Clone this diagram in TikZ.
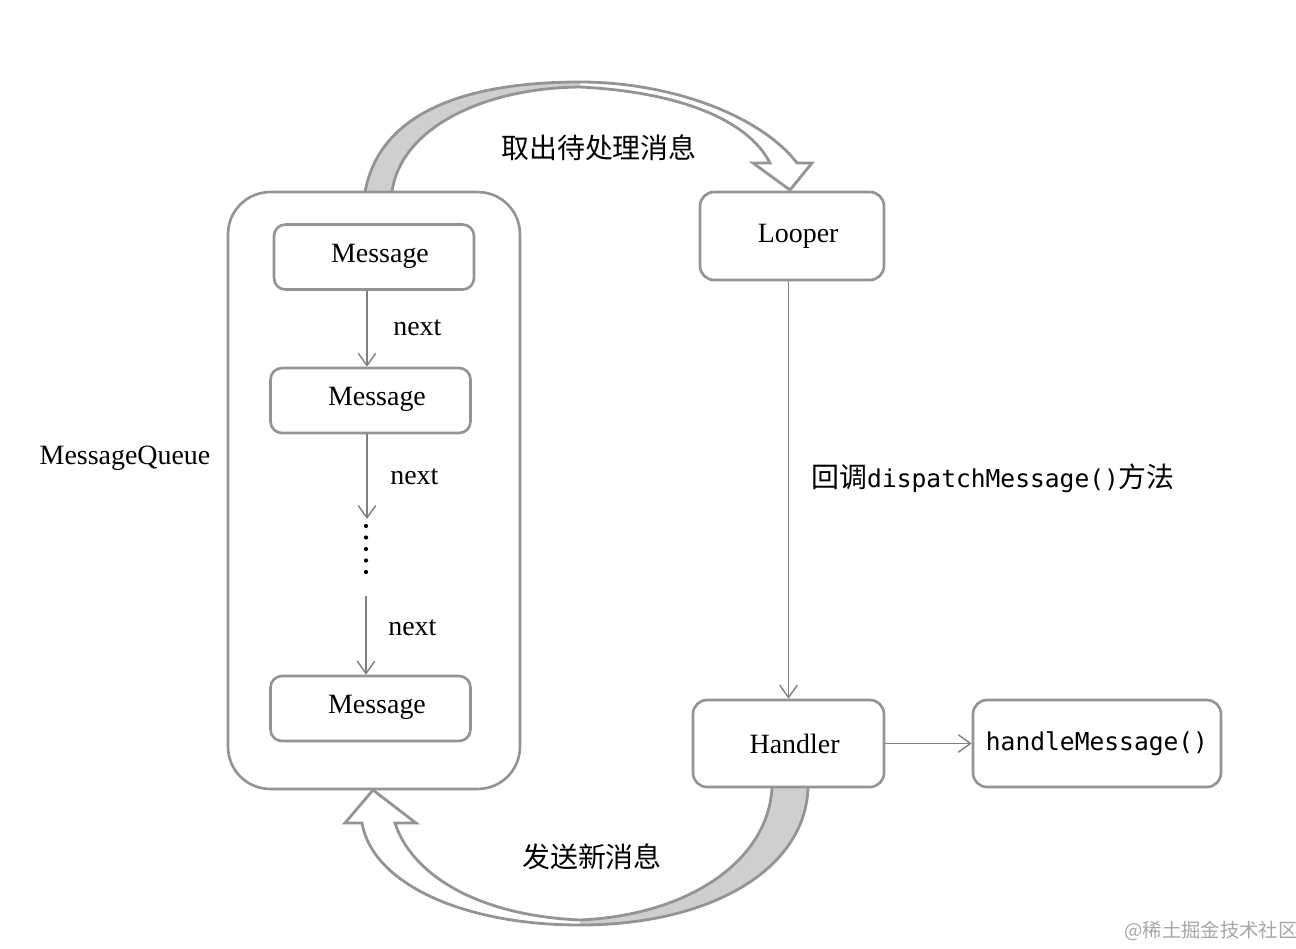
\documentclass[tikz,border=0pt]{standalone}
\usepackage{fontspec}
\setmainfont{Liberation Serif}
\setmonofont{DejaVu Sans Mono}
\newfontfamily\cjk{Noto Sans CJK SC}
\usetikzlibrary{arrows.meta}
\colorlet{lineGray}{black!42}
\colorlet{backGray}{black!19}
\colorlet{markGray}{black!45}
\tikzset{
boxstyle/.style={rectangle, rounded corners=8pt, draw=lineGray, line width=1.5pt, fill=white, inner sep=0pt},
msgstyle/.style={boxstyle, rounded corners=6.5pt, minimum width=4cm, minimum height=1.3cm},
labelstyle/.style={inner sep=0pt, font=\fontsize{15.9}{19}\selectfont},
linkarrow/.style={draw=black!50, line width=0.8pt, -{Straight Barb[length=7pt, width=10pt, line width=0.8pt]}},
curvestyle/.style={draw=lineGray, line width=1.6pt, line join=miter}
}
\newcommand{\bigfont}{\fontsize{15.9}{19}\selectfont}

\begin{document}
\begin{tikzpicture}[x=0.02cm, y=-0.02cm]
\useasboundingbox (0,0) rectangle (1296,948);

% take out message
\fill[backGray] (365,192) .. controls (380,110) and (470,82) .. (580,82) -- (580,87)
  .. controls (480,88) and (400,130) .. (392,192) -- cycle;
\draw[curvestyle] (365,192) .. controls (380,110) and (470,82) .. (580,82)
  .. controls (670,82) and (760,115) .. (797,163) -- (812,163) -- (790,190) -- (753,163) -- (770,163)
  .. controls (748,120) and (680,92) .. (580,87)
  .. controls (480,88) and (400,130) .. (392,192);

% send new message
\fill[backGray] (808,788) .. controls (805,870) and (710,925) .. (580,925) -- (580,920)
  .. controls (690,915) and (768,860) .. (772,788) -- cycle;
\draw[curvestyle] (808,788) .. controls (805,870) and (710,925) .. (580,925)
  .. controls (460,925) and (372,882) .. (362,823) -- (345,823) -- (373,790) -- (416,823) -- (395,823)
  .. controls (410,870) and (470,915) .. (580,920)
  .. controls (690,915) and (768,860) .. (772,788);

\node[boxstyle, rounded corners=24pt, minimum width=5.84cm, minimum height=11.94cm] (queue) at (374,490.5) {};
\node[msgstyle] (msg1) at (374,257) {};
\node[labelstyle] at (380,256) {Message};
\node[msgstyle] (msg2) at (370.5,400.5) {};
\node[labelstyle] at (377,399) {Message};
\node[msgstyle] (msg3) at (370.5,708.5) {};
\node[labelstyle] at (377,707) {Message};

\coordinate (gapa) at (367,519);
\coordinate (gapb) at (366,596);

\draw[linkarrow] (gapa |- msg1.south) -- (gapa |- msg2.north);
\draw[linkarrow] (gapa |- msg2.south) -- (gapa);
\foreach \k in {0,...,4}
  \fill[black] (366,526+11.5*\k) circle (1.2pt);
\draw[linkarrow] (gapb) -- (gapb |- msg3.north);

\node[labelstyle, anchor=west] (nexta) at (393,328) {next};
\node[labelstyle, anchor=west] (nextb) at (390,477) {next};
\node[labelstyle, anchor=west] (nextc) at (388,628) {next};
\node[labelstyle] (queuelabel) at (125,458) {MessageQueue};

\node[boxstyle, minimum width=3.68cm, minimum height=1.76cm, font=\bigfont] (looper) at (792,236) {\hspace*{7pt}Looper};
\node[boxstyle, minimum width=3.82cm, minimum height=1.74cm, font=\bigfont] (handler) at (788.5,743.5) {\hspace*{7pt}Handler};
\node[boxstyle, minimum width=4.96cm, minimum height=1.74cm, font=\ttfamily\fontsize{14}{17}\selectfont] (handlemsg) at (1097,743.5) {handleMessage()};

\draw[linkarrow] (looper.south -| handler.north) -- (handler.north);
\draw[linkarrow] (handler.east) -- (handlemsg.west);

\node[labelstyle, anchor=west, font=\fontsize{15.9}{19}\selectfont] (callback) at (811,478)
  {{\cjk 回调}{\ttfamily\fontsize{14}{17}\selectfont dispatchMessage()}{\cjk 方法}};
\node[labelstyle, font=\cjk\bigfont] (takelabel) at (599,148) {取出待处理消息};
\node[labelstyle, font=\cjk\bigfont] (sendlabel) at (592,857) {发送新消息};
\node[labelstyle, font=\cjk\fontsize{11}{13}\selectfont, text=black!35] (mark) at (1211,931) {@稀土掘金技术社区};
\end{tikzpicture}
\end{document}
